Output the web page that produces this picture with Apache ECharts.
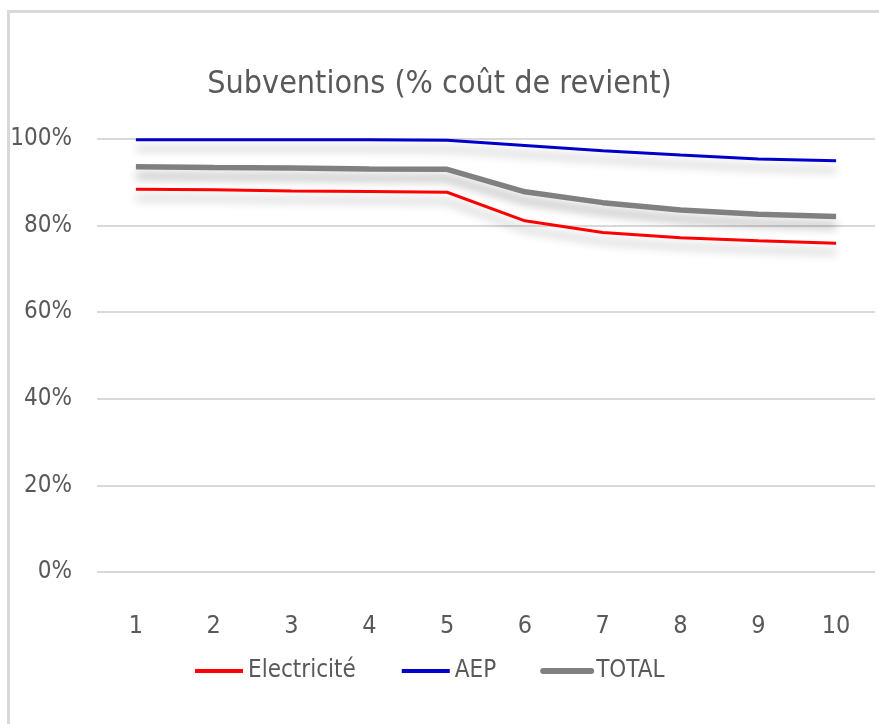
<!DOCTYPE html>
<html>
<head>
<meta charset="UTF-8">
<title>Subventions</title>
<script src="https://cdn.jsdelivr.net/npm/echarts@6/dist/echarts.min.js"></script>
<style>
  html, body { margin: 0; padding: 0; background: #fff; }
  #main { width: 879px; height: 724px; }
</style>
</head>
<body>
<div id="main"></div>
<script>
  // données
  var annees = ['1', '2', '3', '4', '5', '6', '7', '8', '9', '10'];
  var electricite = [88.4, 88.3, 88.0, 87.9, 87.7, 81.1, 78.4, 77.2, 76.5, 75.9];
  var aep = [99.8, 99.8, 99.8, 99.8, 99.7, 98.5, 97.3, 96.3, 95.4, 95.0];
  var total = [93.6, 93.4, 93.3, 93.1, 93.0, 87.8, 85.3, 83.6, 82.6, 82.1];

  var police = '"Liberation Sans Narrow", "DejaVu Sans Condensed", "Open Sans", sans-serif';
  var gris = '#595959';

  var chart = echarts.init(document.getElementById('main'));

  function serie(nom, valeurs, couleur, largeur) {
    return {
      name: nom,
      type: 'line',
      data: valeurs,
      symbol: 'none',
      smooth: false,
      itemStyle: { color: couleur },
      lineStyle: {
        color: couleur,
        width: largeur,
        shadowColor: 'rgba(0,0,0,0.3)',
        shadowBlur: 10,
        shadowOffsetY: 9
      }
    };
  }

  chart.setOption({
    animation: false,
    backgroundColor: '#fff',
    graphic: [{
      type: 'rect',
      shape: { x: 8.5, y: 11.5, width: 900, height: 800 },
      style: { fill: 'none', stroke: '#d9d9d9', lineWidth: 3 },
      silent: true
    }],
    title: {
      text: 'Subventions (% coût de revient)',
      left: 'center',
      top: 64,
      textStyle: { color: gris, fontFamily: police, fontWeight: 'normal', fontSize: 32 }
    },
    legend: {
      left: 188,
      top: 654,
      itemWidth: 48,
      itemHeight: 14,
      itemGap: 44,
      itemStyle: { opacity: 0 },
      textStyle: { color: gris, fontFamily: police, fontSize: 24 },
      data: [
        { name: 'Electricité', lineStyle: { width: 4, shadowBlur: 0, shadowOffsetY: 0 } },
        { name: 'AEP', lineStyle: { width: 4, shadowBlur: 0, shadowOffsetY: 0 } },
        { name: 'TOTAL', lineStyle: { width: 6, cap: 'round', shadowBlur: 0, shadowOffsetY: 0 } }
      ]
    },
    grid: { left: 97, right: 4, top: 139, bottom: 152, containLabel: false },
    xAxis: {
      type: 'category',
      data: annees,
      boundaryGap: true,
      axisLine: { show: false },
      axisTick: { show: false },
      axisLabel: { color: gris, fontFamily: police, fontSize: 25, margin: 42 }
    },
    yAxis: {
      type: 'value',
      min: 0,
      max: 100,
      interval: 20,
      axisLine: { show: false },
      axisTick: { show: false },
      axisLabel: { color: gris, fontFamily: police, fontSize: 24, margin: 25, formatter: '{value}%' },
      splitLine: { lineStyle: { color: '#d9d9d9', width: 2 } }
    },
    series: [
      serie('Electricité', electricite, '#ff0000', 3),
      serie('AEP', aep, '#0000cc', 3),
      serie('TOTAL', total, '#808080', 5.5)
    ]
  });
</script>
</body>
</html>
